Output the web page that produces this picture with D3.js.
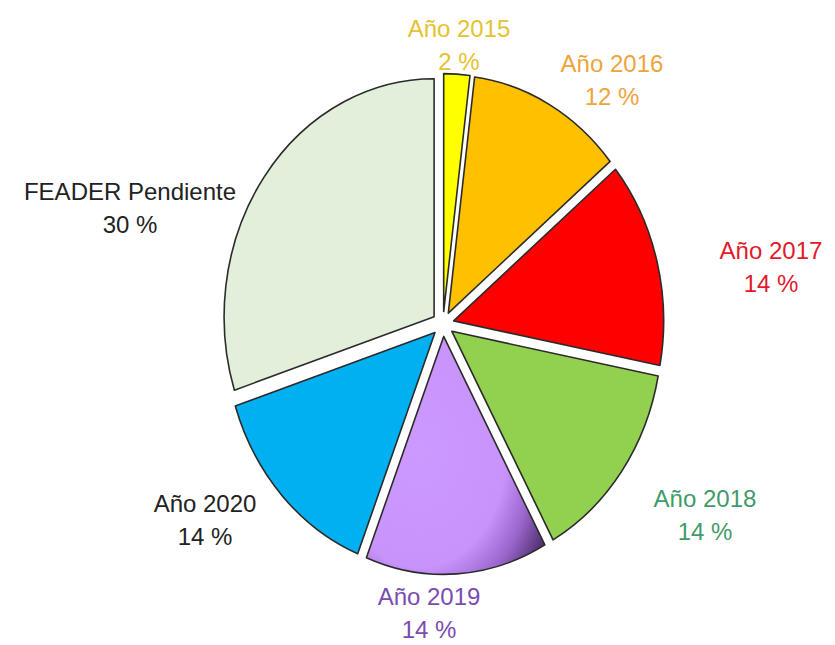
<!DOCTYPE html>
<html>
<head>
<meta charset="utf-8">
<script src="https://cdn.jsdelivr.net/npm/d3@7"></script>
<style>
  html, body { margin: 0; padding: 0; background: #ffffff; }
  svg { display: block; }
  text { font-family: "Liberation Sans", Arial, sans-serif; }
</style>
</head>
<body>
<svg id="chart" width="835" height="645"></svg>
<script>
// ---- data ----
const categories = ["Año 2015", "Año 2016", "Año 2017", "Año 2018", "Año 2019", "Año 2020", "FEADER Pendiente"];
const values = [2, 12, 14, 14, 14, 14, 30];
const pctLabels = ["2 %", "12 %", "14 %", "14 %", "14 %", "14 %", "30 %"];

// ---- styles ----
const fills = ["#ffff00", "#ffc000", "#ff0000", "#92d050", "url(#grad2019)", "#00b0f0", "#e2efda"];
const labelColors = ["#e6c22e", "#eea43a", "#e3192b", "#3f9b6b", "#7b4cb0", "#222222", "#222222"];
// label anchor offsets from pie centre (layout)
const labelOffsets = [[16, -279], [169, -244], [328, -57], [262, 191], [-14, 289], [-238, 196], [-313, -116]];

const W = 835, H = 645;
const cx = 443, cy = 324;
const rx = 210, yScale = 1.133;
const explode = 11;

const svg = d3.select("#chart");
const defs = svg.append("defs");
const g2019 = defs.append("radialGradient").attr("id", "grad2019")
  .attr("cx", 0.3).attr("cy", 0.49).attr("r", 0.8).attr("fx", 0.3).attr("fy", 0.49);
[[0, "#cc99ff"], [0.6, "#c894fb"], [0.8, "#9a66cc"], [1, "#4a2a66"]].forEach(s =>
  g2019.append("stop").attr("offset", s[0]).attr("stop-color", s[1]));

const pie = d3.pie().sort(null).value(d => d);
const arcs = pie(values);
const arc = d3.arc().innerRadius(0).outerRadius(rx);

const gPie = svg.append("g").attr("transform", `translate(${cx},${cy}) scale(1,${yScale})`);
gPie.selectAll("path").data(arcs).enter().append("path")
  .attr("d", arc)
  .attr("transform", d => {
    const a = (d.startAngle + d.endAngle) / 2;
    return `translate(${explode * Math.sin(a)},${-explode * Math.cos(a)})`;
  })
  .attr("fill", (d, i) => fills[i])
  .attr("stroke", "#2b2b2b")
  .attr("stroke-width", 1.6)
  .attr("vector-effect", "non-scaling-stroke")
  .attr("stroke-linejoin", "round");

const gLab = svg.append("g").attr("transform", `translate(${cx},${cy})`);
categories.forEach((c, i) => {
  const [dx, dy] = labelOffsets[i];
  const t = gLab.append("text")
    .attr("text-anchor", "middle")
    .attr("font-size", 24)
    .attr("fill", labelColors[i]);
  t.append("tspan").attr("x", dx).attr("y", dy - 8).text(c);
  t.append("tspan").attr("x", dx).attr("y", dy + 25).text(pctLabels[i]);
});
</script>
</body>
</html>
